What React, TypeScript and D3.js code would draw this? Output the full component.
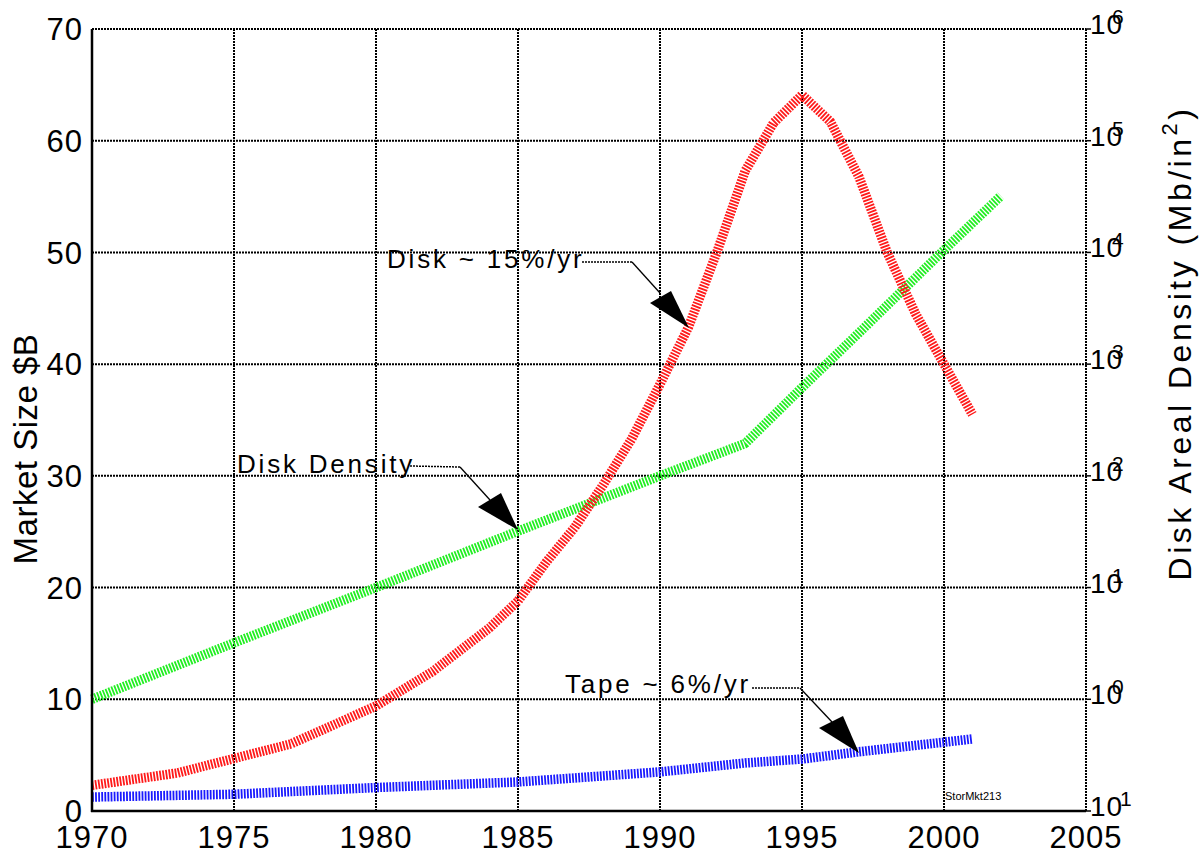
import React from "react";
import * as d3 from "d3";

const xTicks = [1970, 1975, 1980, 1985, 1990, 1995, 2000, 2005];
const yTicks = [0, 10, 20, 30, 40, 50, 60, 70];
const rightExponents = ["1", "0", "1", "2", "3", "4", "5", "6"];
const rightValues = [0.1, 1, 10, 100, 1000, 10000, 100000, 1000000];

const diskYears = [1970, 1973, 1975, 1977, 1980, 1982, 1984, 1985, 1986, 1987, 1988, 1989, 1990, 1991, 1992, 1993, 1994, 1995, 1996, 1997, 1998, 1999, 2000, 2001];
const diskMarket = [2.3, 3.4, 4.7, 6.0, 9.4, 12.5, 16.4, 18.8, 22.3, 25.4, 29.2, 33.3, 38.2, 43.3, 50.0, 57.3, 61.6, 64.1, 61.7, 56.8, 50.0, 44.5, 40.0, 35.5];

const tapeYears = [1970, 1975, 1980, 1985, 1990, 1993, 1995, 1997, 2001];
const tapeMarket = [1.25, 1.5, 2.1, 2.6, 3.5, 4.3, 4.65, 5.3, 6.45];

const densityYears = [1970, 1975, 1980, 1985, 1990, 1993, 1995, 1997, 2000, 2002];
const densityMbIn2 = [1.0, 3.2, 10, 32, 100, 195, 617, 1900, 10500, 32000];

const W = 1201;
const H = 857;
const FONT = "'Liberation Sans', Arial, Helvetica, sans-serif";

export default function App() {
  const x = d3.scaleLinear().domain([1970, 2005]).range([92, 1086]);
  const y = d3.scaleLinear().domain([0, 70]).range([811, 29]);
  const yR = d3.scaleLog().domain([0.1, 1000000]).range([811, 29]);

  const line = d3.line<[number, number]>().x((d) => x(d[0])).y((d) => d[1]);

  const disk = line(diskYears.map((yr, i) => [yr, y(diskMarket[i])] as [number, number]));
  const tape = line(tapeYears.map((yr, i) => [yr, y(tapeMarket[i])] as [number, number]));
  const dens = line(densityYears.map((yr, i) => [yr, yR(densityMbIn2[i])] as [number, number]));

  const gridStyle = { stroke: "#000", strokeWidth: 2, strokeDasharray: "2 1" };
  const hatch = { fill: "none", strokeWidth: 9.5, strokeDasharray: "1.8 1.3", strokeLinejoin: "round" as const };

  const annotations = [
    { text: "Disk ~ 15%/yr", tx: 387, ty: 268, lead: [[582, 262], [632, 262]], diag: [660, 293], tri: [[650, 303], [671, 291], [689, 328]] },
    { text: "Disk Density", tx: 237, ty: 473, lead: [[410, 466], [460, 467]], diag: [490, 500], tri: [[478, 507], [501, 493], [518, 530]] },
    { text: "Tape ~ 6%/yr", tx: 565, ty: 693, lead: [[752, 688], [800, 688]], diag: [832, 722], tri: [[819, 728], [843, 716], [859, 753]] },
  ];

  return (
    <svg width={W} height={H} style={{ position: "absolute", left: 0, top: 0, display: "block", background: "#fff" }} fontFamily={FONT}>
      <rect x={0} y={0} width={W} height={H} fill="#fff" />
      {/* grid */}
      {xTicks.slice(1, -1).map((t) => (
        <line key={"gx" + t} x1={x(t)} x2={x(t)} y1={y(70)} y2={y(0)} style={gridStyle} />
      ))}
      {yTicks.slice(1, -1).map((t) => (
        <line key={"gy" + t} x1={x(1970)} x2={x(2005)} y1={y(t)} y2={y(t)} style={gridStyle} />
      ))}
      {/* frame top/right dotted */}
      <line x1={x(1970)} x2={x(2005)} y1={y(70)} y2={y(70)} style={gridStyle} />
      <line x1={x(2005)} x2={x(2005)} y1={y(70)} y2={y(0)} style={gridStyle} />
      {/* right ticks */}
      {rightValues.map((v) => (
        <line key={"rt" + v} x1={x(2005)} x2={x(2005) + 5} y1={yR(v)} y2={yR(v)} stroke="#000" strokeWidth={1.5} />
      ))}

      {/* series */}
      <path d={dens || ""} stroke="#22ee22" {...hatch} />
      <path d={disk || ""} stroke="#ff1a1a" {...hatch} />
      <path d={tape || ""} stroke="#1a1aff" {...hatch} />

      {/* left/bottom axes solid */}
      <line x1={x(1970)} x2={x(1970)} y1={y(70)} y2={y(0) + 1} stroke="#000" strokeWidth={2.5} />
      <line x1={x(1970) - 1} x2={x(2005)} y1={y(0)} y2={y(0)} stroke="#000" strokeWidth={2.5} />

      {/* tick labels */}
      {yTicks.map((t) => (
        <text key={"yl" + t} x={83} y={y(t)} dy="0.36em" textAnchor="end" fontSize={31} letterSpacing={1} fill="#000">
          {t}
        </text>
      ))}
      {xTicks.map((t) => (
        <text key={"xl" + t} x={x(t)} y={848} textAnchor="middle" fontSize={31} letterSpacing={1} fill="#000">
          {t}
        </text>
      ))}
      {rightValues.map((v, i) => (
        <g key={"rl" + v}>
          <text x={1090} y={yR(v) + 5} fontSize={28} letterSpacing={1} fill="#000">10</text>
          <text x={i === 0 ? 1120 : 1112} y={yR(v) - 5} fontSize={21} fill="#000">
            {rightExponents[i]}
          </text>
        </g>
      ))}

      {/* axis titles */}
      <text transform={`translate(37,449) rotate(-90)`} textAnchor="middle" fontSize={33} letterSpacing={0.5} fill="#000">
        Market Size $B
      </text>
      <text transform={`translate(1191,343) rotate(-90)`} textAnchor="middle" fontSize={32} letterSpacing={3.5} fill="#000">
        Disk Areal Density (Mb/in
        <tspan dy={-14} fontSize={22}>2</tspan>
        <tspan dy={14}>)</tspan>
      </text>

      {/* annotations */}
      {annotations.map((a) => (
        <g key={a.text}>
          <text x={a.tx} y={a.ty} fontSize={26} letterSpacing={2.8} fill="#000">
            {a.text}
          </text>
          <line x1={a.lead[0][0]} y1={a.lead[0][1]} x2={a.lead[1][0]} y2={a.lead[1][1]} stroke="#000" strokeWidth={1.5} strokeDasharray="2 1" />
          <line x1={a.lead[1][0]} y1={a.lead[1][1]} x2={a.diag[0]} y2={a.diag[1]} stroke="#000" strokeWidth={1.3} />
          <polygon points={a.tri.map((p) => p.join(",")).join(" ")} fill="#000" />
        </g>
      ))}
      <text x={945} y={800} fontSize={11} fill="#000">StorMkt213</text>
    </svg>
  );
}
